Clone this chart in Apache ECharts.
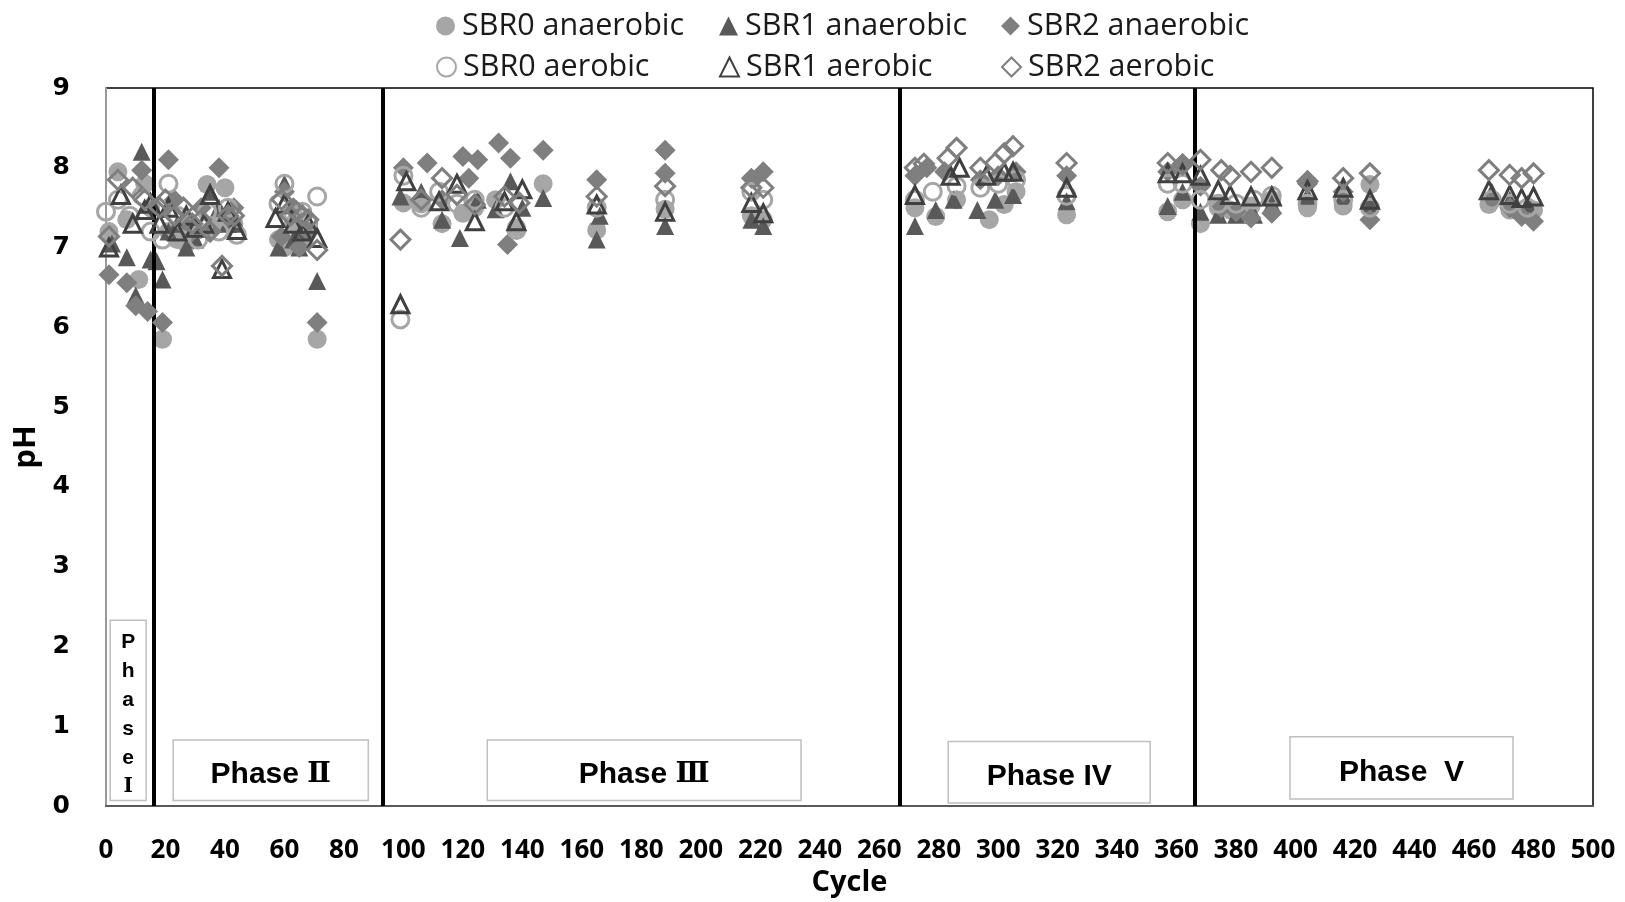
<!DOCTYPE html>
<html>
<head>
<meta charset="utf-8">
<script src="https://cdn.jsdelivr.net/npm/echarts@6/dist/echarts.min.js"></script>
<style>
html,body{margin:0;padding:0;background:#fff;}
#chart{width:1625px;height:902px;}
</style>
</head>
<body>
<div id="chart"></div>
<script>
// ---- data: [cycle, pH] ----
const sbr0Anaerobic = [
  [1,7.2],[4,7.95],[7,7.35],[11,6.6],[13,7.8],[15,7.5],
  [19,5.85],[21,7.2],[24,7.1],[27,7.05],[30,7.2],[34,7.79],[38,7.3],[40,7.75],[43,7.3],
  [58,7.1],[60,7.0],[63,7.3],[65,7.05],[68,7.2],[71,5.85],
  [100,7.56],[106,7.55],[113,7.3],[120,7.43],[124,7.5],[131,7.6],[138,7.25],[147,7.8],
  [165,7.22],[188,7.48],[217,7.4],[221,7.35],
  [272,7.5],[279,7.39],[286,7.6],[297,7.35],[302,7.54],[306,7.7],[323,7.41],[357,7.45],[362,7.6],
  [368,7.3],[374,7.5],[378,7.47],[385,7.52],[392,7.6],[404,7.5],[416,7.52],[425,7.79],
  [465,7.54],[472,7.47],[480,7.47]
];
const sbr1Anaerobic = [
  [2,7.05],[7,6.88],[10,6.4],[12,8.2],[15,6.85],
  [17,6.83],[19,6.6],[21,7.2],[24,7.3],[27,7.0],[30,7.1],[35,7.7],[38,7.5],[41,7.3],[44,7.3],
  [58,7.0],[60,7.8],[63,7.1],[65,7.0],[67,7.22],[71,6.58],
  [99,7.64],[106,7.7],[113,7.35],[119,7.12],[125,7.6],[131,7.48],[136,7.83],[140,7.5],[147,7.62],
  [165,7.1],[166,7.4],[188,7.27],[217,7.35],[221,7.27],
  [272,7.27],[279,7.47],[285,7.6],[293,7.47],[299,7.6],[305,7.66],[323,7.58],[357,7.52],[362,7.7],
  [368,7.45],[374,7.41],[380,7.41],[386,7.41],[392,7.55],[404,7.65],[416,7.65],[425,7.55],
  [466,7.7],[472,7.6],[478,7.55]
];
const sbr2Anaerobic = [
  [1,6.66],[7,6.56],[10,6.27],[12,7.97],[14,6.2],
  [19,6.06],[21,8.1],[23,7.6],[26,7.3],[29,7.2],[32,7.5],[35,7.2],[38,8.0],[41,7.4],[43,7.5],
  [59,7.14],[60,7.7],[63,7.5],[65,7.0],[68,7.2],[71,6.06],
  [100,8.0],[108,8.06],[113,7.6],[120,8.14],[122,7.87],[125,8.1],[132,8.31],[136,8.12],[135,7.04],[147,8.22],
  [165,7.85],[188,8.22],[188,7.93],[217,7.87],[221,7.95],
  [272,7.9],[276,8.0],[282,7.95],[294,7.85],[300,7.9],[306,7.95],[323,7.9],[357,7.95],[362,8.05],
  [368,7.77],[375,7.5],[380,7.45],[385,7.37],[392,7.43],[404,7.8],[416,7.7],[425,7.35],
  [466,7.6],[472,7.5],[476,7.39],[480,7.33]
];
const sbr0Aerobic = [
  [0,7.45],[4,7.6],[8,7.4],[12,7.65],[15,7.2],
  [19,7.1],[21,7.8],[24,7.4],[27,7.3],[31,7.1],[34,7.45],[38,7.2],[41,7.5],[44,7.16],
  [58,7.55],[60,7.8],[63,7.4],[66,7.45],[68,7.3],[71,7.64],
  [99,6.1],[100,7.9],[106,7.5],[112,7.7],[118,7.55],[124,7.6],[134,7.5],[138,7.22],
  [165,7.5],[188,7.6],[217,7.7],[221,7.6],
  [272,7.6],[278,7.7],[286,7.77],[294,7.75],[300,7.8],[306,7.85],[323,7.65],[357,7.8],[362,7.8],
  [368,7.6],[374,7.55],[380,7.55],[386,7.6],[392,7.65],[404,7.55],[416,7.6],[425,7.5],
  [466,7.6],[472,7.55],[478,7.5]
];
const sbr1Aerobic = [
  [1,7.0],[5,7.66],[9,7.3],[13,7.47],[15,7.55],
  [18,7.3],[21,7.5],[24,7.2],[27,7.4],[30,7.25],[33,7.3],[35,7.66],[39,6.73],[41,7.45],[44,7.22],
  [57,7.37],[60,7.55],[63,7.3],[66,7.2],[68,7.3],[71,7.12],
  [99,6.29],[101,7.83],[112,7.58],[118,7.8],[124,7.33],[134,7.58],[138,7.33],[140,7.73],
  [165,7.54],[188,7.45],[217,7.56],[221,7.43],
  [272,7.66],[284,7.9],[287,8.0],[296,7.9],[302,7.95],[305,7.95],[323,7.75],[357,7.93],[362,7.93],
  [368,7.9],[374,7.72],[378,7.66],[385,7.64],[392,7.64],[404,7.72],[416,7.75],[425,7.6],
  [465,7.72],[472,7.66],[476,7.62],[480,7.64]
];
const sbr2Aerobic = [
  [1,7.14],[4,7.85],[9,7.75],[13,7.6],
  [18,7.5],[20,7.6],[23,7.4],[26,7.5],[29,7.3],[32,7.35],[35,7.2],[39,6.77],[41,7.4],[43,7.4],
  [59,7.6],[62,7.4],[64,7.45],[66,7.4],[68,7.35],[71,6.97],
  [99,7.1],[106,7.6],[113,7.87],[118,7.66],[124,7.54],[134,7.64],[139,7.56],
  [165,7.64],[188,7.77],[217,7.75],[221,7.75],
  [272,8.0],[275,8.05],[283,8.12],[286,8.25],[294,8.0],[299,8.06],[302,8.18],[305,8.27],[323,8.06],[357,8.06],[362,8.04],
  [368,8.1],[375,7.97],[378,7.9],[385,7.95],[392,8.0],[404,7.83],[416,7.87],[425,7.93],
  [465,7.97],[472,7.91],[476,7.87],[480,7.93]
];
const phaseBoundaries = [16, 93, 267, 366];
const phaseLabels = [
  'P\nh\na\ns\ne\n{r1|Ⅰ}',
  'Phase {r|Ⅱ}',
  'Phase {r|Ⅲ}',
  'Phase IV',
  'Phase  V'
];
const xTickRange = {min: 0, max: 500, step: 20};
const yTickRange = {min: 0, max: 9, step: 1};

// ---- layout (annotation boxes, in axis units) ----
const phaseBoxes = [
  [[1.4, 2.33], [13.5, 0.07]],
  [[22.6, 0.83], [88.2, 0.07]],
  [[128.2, 0.83], [233.7, 0.07]],
  [[283.2, 0.81], [351.1, 0.04]],
  [[398.1, 0.87], [473.1, 0.09]]
];

const chart = echarts.init(document.getElementById('chart'), null, {renderer: 'canvas'});

const seriesDefs = [
  {name: 'SBR0 anaerobic', data: sbr0Anaerobic, symbol: 'circle', size: 19, fill: '#a6a6a6', border: '#a6a6a6', bw: 0},
  {name: 'SBR1 anaerobic', data: sbr1Anaerobic, symbol: 'triangle', size: 18, fill: '#595959', border: '#595959', bw: 0},
  {name: 'SBR2 anaerobic', data: sbr2Anaerobic, symbol: 'diamond', size: 21, fill: '#7f7f7f', border: '#7f7f7f', bw: 0},
  {name: 'SBR0 aerobic', data: sbr0Aerobic, symbol: 'circle', size: 17, fill: 'rgba(255,255,255,0)', border: '#a6a6a6', bw: 3},
  {name: 'SBR1 aerobic', data: sbr1Aerobic, symbol: 'triangle', size: 17, fill: 'rgba(255,255,255,0)', border: '#404040', bw: 3},
  {name: 'SBR2 aerobic', data: sbr2Aerobic, symbol: 'diamond', size: 19, fill: 'rgba(255,255,255,0)', border: '#7f7f7f', bw: 3}
];

const series = seriesDefs.map((d, i) => ({
  name: d.name,
  type: 'scatter',
  data: d.data,
  symbol: d.symbol,
  symbolSize: d.size,
  z: 3 + i,
  itemStyle: {color: d.fill, borderColor: d.border, borderWidth: d.bw, opacity: 1},
  emphasis: {disabled: true}
}));

const romanRich = {
  r: {fontFamily: 'DejaVu Serif, serif', fontWeight: 'bold', fontSize: 28, color: '#000'},
  r1: {fontFamily: 'DejaVu Serif, serif', fontWeight: 'bold', fontSize: 20, color: '#000', lineHeight: 29}
};

series.push({
  name: 'phases',
  type: 'line',
  data: [],
  z: 10,
  silent: true,
  markLine: {
    silent: true,
    symbol: ['none', 'none'],
    label: {show: false},
    lineStyle: {color: '#000', width: 4, type: 'solid'},
    data: phaseBoundaries.map(v => ({xAxis: v}))
  },
  markArea: {
    silent: true,
    itemStyle: {color: '#fff', borderColor: '#bfbfbf', borderWidth: 1.5},
    label: {
      show: true, position: 'inside', color: '#000', offset: [0, 5],
      fontFamily: 'Liberation Sans, Arial, sans-serif', fontWeight: 'bold', fontSize: 30,
      rich: romanRich
    },
    data: phaseBoxes.map((b, i) => [
      {coord: b[0], label: i === 0 ? {formatter: phaseLabels[i], fontSize: 21, lineHeight: 29, offset: [0, 4]} : {formatter: phaseLabels[i]}},
      {coord: b[1]}
    ])
  }
});

const legendCols = [436, 719, 1001];
const legendRows = [9, 50];
const legendOrder = [
  ['SBR0 anaerobic', 'SBR1 anaerobic', 'SBR2 anaerobic'],
  ['SBR0 aerobic', 'SBR1 aerobic', 'SBR2 aerobic']
];
const legends = [];
legendOrder.forEach((row, r) => row.forEach((name, c) => {
  legends.push({
    data: [name],
    left: legendCols[c],
    top: legendRows[r],
    orient: 'horizontal',
    itemWidth: 19, itemHeight: 19, itemGap: 0,
    padding: 0,
    selectedMode: false,
    textStyle: {fontFamily: 'Open Sans, sans-serif', fontSize: 30.5, color: '#1a1a1a', padding: [0, 0, 0, 2], lineHeight: 34}
  });
}));

chart.setOption({
  animation: false,
  backgroundColor: '#fff',
  legend: legends,
  grid: {
    left: 106, right: 32, top: 88, bottom: 94,
    show: true, borderColor: '#000', borderWidth: 1.5, backgroundColor: 'transparent'
  },
  xAxis: {
    type: 'value',
    min: xTickRange.min, max: xTickRange.max, interval: xTickRange.step,
    name: 'Cycle', nameLocation: 'middle', nameGap: 61,
    nameTextStyle: {fontFamily: 'Open Sans, sans-serif', fontWeight: 'bold', fontSize: 29, color: '#000'},
    axisLine: {lineStyle: {color: '#595959', width: 2}},
    axisTick: {show: false},
    splitLine: {show: false},
    axisLabel: {fontFamily: 'Open Sans, sans-serif', fontWeight: 'bold', fontSize: 26, color: '#000', margin: 31}
  },
  yAxis: {
    type: 'value',
    min: yTickRange.min, max: yTickRange.max, interval: yTickRange.step,
    name: 'pH', nameLocation: 'middle', nameGap: 58, nameRotate: 90,
    nameTextStyle: {fontFamily: 'Open Sans, sans-serif', fontWeight: 'bold', fontSize: 31, color: '#000'},
    axisLine: {show: true, lineStyle: {color: '#999', width: 2}},
    axisTick: {show: false},
    splitLine: {show: false},
    axisLabel: {fontFamily: 'DejaVu Sans, sans-serif', fontWeight: 'bold', fontSize: 25, color: '#000', margin: 36}
  },
  series: series
});
</script>
</body>
</html>
